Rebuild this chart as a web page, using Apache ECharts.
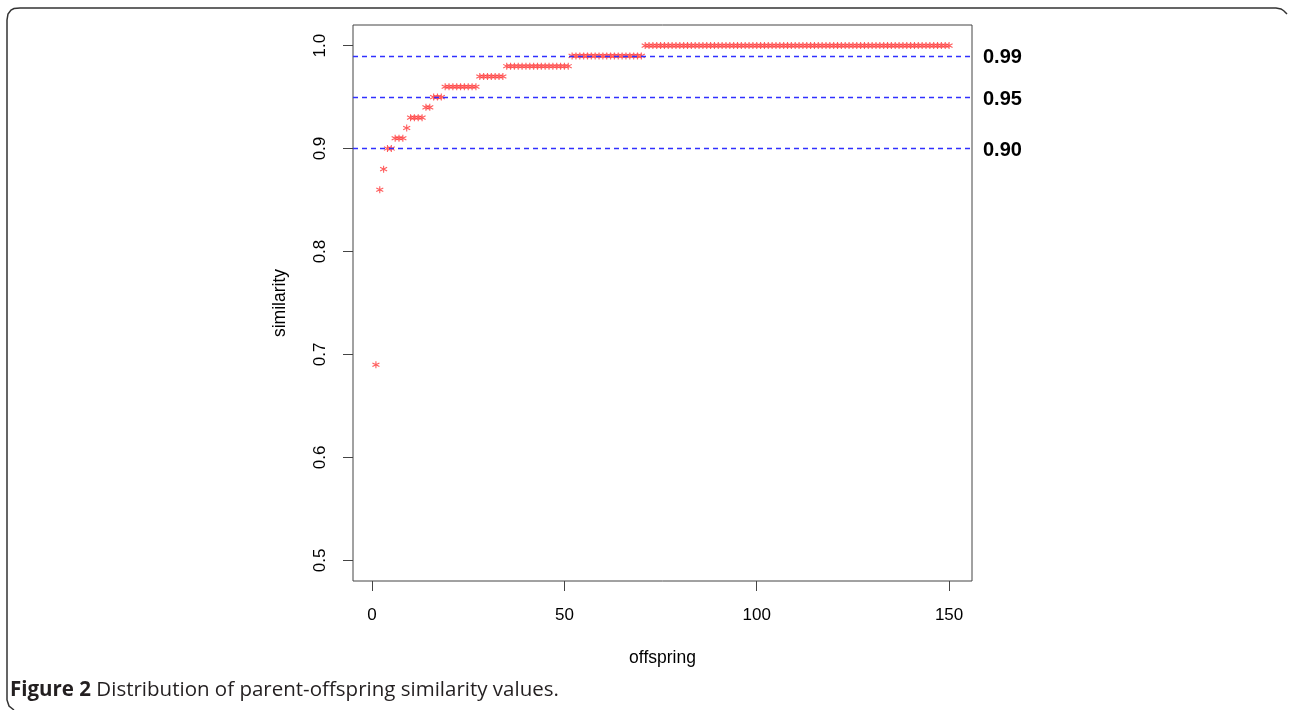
<!DOCTYPE html>
<html>
<head>
<meta charset="utf-8">
<script src="https://cdn.jsdelivr.net/npm/echarts@6/dist/echarts.min.js"></script>
<style>
  html, body { margin: 0; padding: 0; background: #fff; }
  #chart { width: 1289px; height: 710px; }
</style>
</head>
<body>
<div id="chart"></div>
<script>
// similarity of each offspring (index 1..150)
const similarity = [
  0.69, 0.86, 0.88, 0.90, 0.90, 0.91, 0.91, 0.91, 0.92, 0.93,
  0.93, 0.93, 0.93, 0.94, 0.94, 0.95, 0.95, 0.95, 0.96, 0.96,
  0.96, 0.96, 0.96, 0.96, 0.96, 0.96, 0.96, 0.97, 0.97, 0.97,
  0.97, 0.97, 0.97, 0.97, 0.98, 0.98, 0.98, 0.98, 0.98, 0.98,
  0.98, 0.98, 0.98, 0.98, 0.98, 0.98, 0.98, 0.98, 0.98, 0.98,
  0.98, 0.99, 0.99, 0.99, 0.99, 0.99, 0.99, 0.99, 0.99, 0.99,
  0.99, 0.99, 0.99, 0.99, 0.99, 0.99, 0.99, 0.99, 0.99, 0.99,
  1.00, 1.00, 1.00, 1.00, 1.00, 1.00, 1.00, 1.00, 1.00, 1.00,
  1.00, 1.00, 1.00, 1.00, 1.00, 1.00, 1.00, 1.00, 1.00, 1.00,
  1.00, 1.00, 1.00, 1.00, 1.00, 1.00, 1.00, 1.00, 1.00, 1.00,
  1.00, 1.00, 1.00, 1.00, 1.00, 1.00, 1.00, 1.00, 1.00, 1.00,
  1.00, 1.00, 1.00, 1.00, 1.00, 1.00, 1.00, 1.00, 1.00, 1.00,
  1.00, 1.00, 1.00, 1.00, 1.00, 1.00, 1.00, 1.00, 1.00, 1.00,
  1.00, 1.00, 1.00, 1.00, 1.00, 1.00, 1.00, 1.00, 1.00, 1.00,
  1.00, 1.00, 1.00, 1.00, 1.00, 1.00, 1.00, 1.00, 1.00, 1.00
];
const thresholds = [0.90, 0.95, 0.99];
const xTicks = [0, 50, 100, 150];
const yTicks = [0.5, 0.6, 0.7, 0.8, 0.9, 1.0];

const points = similarity.map((v, i) => [i + 1, v]);

const chart = echarts.init(document.getElementById("chart"));
const axisColor = "#444";
const font = "'Liberation Sans', Arial, sans-serif";

const option = {
  animation: false,
  grid: {
    left: 353,
    top: 25,
    width: 619,
    height: 556,
    show: true,
    borderColor: axisColor,
    borderWidth: 1,
  },
  xAxis: {
    type: "value",
    min: -4.96,
    max: 155.96,
    name: "offspring",
    nameLocation: "middle",
    nameGap: 68,
    nameTextStyle: { color: "#000", fontSize: 17.5, fontFamily: font },
    axisLine: { show: false, onZero: false },
    splitLine: { show: false },
    axisTick: {
      show: true,
      length: 10,
      customValues: xTicks,
      lineStyle: { color: axisColor },
    },
    axisLabel: {
      customValues: xTicks,
      margin: 26,
      color: "#000",
      fontSize: 17,
      fontFamily: font,
    },
  },
  yAxis: {
    type: "value",
    min: 0.48,
    max: 1.02,
    name: "similarity",
    nameLocation: "middle",
    nameRotate: 90,
    nameGap: 64,
    nameTextStyle: { color: "#000", fontSize: 17.5, fontFamily: font },
    axisLine: { show: false, onZero: false },
    splitLine: { show: false },
    axisTick: {
      show: true,
      length: 10,
      customValues: yTicks,
      lineStyle: { color: axisColor },
    },
    axisLabel: {
      customValues: yTicks,
      rotate: 90,
      margin: 24,
      color: "#000",
      fontSize: 17,
      fontFamily: font,
      formatter: (v) => v.toFixed(1),
    },
  },
  series: [
    {
      type: "scatter",
      data: points,
      symbol: "path://M0,-5L0,5M-4.5,-2.6L4.5,2.6M-4.5,2.6L4.5,-2.6",
      symbolSize: 7,
      itemStyle: {
        color: "rgba(0,0,0,0)",
        borderColor: "#ff3535",
        borderWidth: 1.1,
      },
      markLine: {
        silent: true,
        symbol: "none",
        lineStyle: { color: "#3030ff", type: [5, 4], width: 1.3 },
        label: {
          position: "end",
          distance: 11,
          offset: [0, 2],
          color: "#000",
          fontSize: 20,
          fontWeight: "bold",
          fontFamily: font,
          formatter: (p) => p.value.toFixed(2),
        },
        data: thresholds.map((t) => ({ yAxis: t })),
      },
    },
  ],
  graphic: [
    {
      type: "polyline",
      shape: {
        points: [
          [14, 710], [9, 706], [7, 700], [7, 20], [8, 14], [11, 10],
          [14, 8.5], [20, 8], [1276, 8], [1281, 9], [1284, 11], [1287, 14],
        ],
      },
      style: { fill: "none", stroke: "#333", lineWidth: 1.5 },
    },
    {
      type: "text",
      left: 10,
      top: 680,
      style: {
        text: "{b|Figure 2} Distribution of parent-offspring similarity values.",
        font: "20.5px 'Open Sans', sans-serif",
        fill: "#231f20",
        rich: {
          b: {
            fontWeight: "bold",
            fontSize: 20.5,
            fontFamily: "'Open Sans', sans-serif",
            fill: "#231f20",
          },
        },
      },
    },
  ],
};

chart.setOption(option);
</script>
</body>
</html>
